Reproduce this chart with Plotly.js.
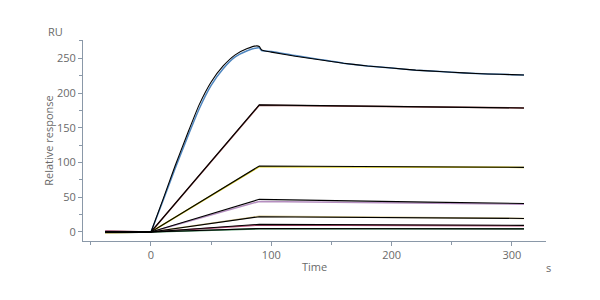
<!DOCTYPE html>
<html>
<head>
<meta charset="utf-8">
<script src="https://cdn.plot.ly/plotly-3.0.1.min.js"></script>
<style>html,body{margin:0;padding:0;background:#fff;}#chart{width:600px;height:300px;}</style>
</head>
<body>
<div id="chart"></div>
<script>
// Time points for the top (curved) sensorgram
const tTop = [-38, 0, 10, 20, 30, 40, 50, 60, 70, 80, 88, 90, 92, 100, 120, 140, 160, 180, 200, 220, 240, 260, 280, 300, 310];
const topFit  = [0, 0, 47, 95, 140, 183, 216, 239, 255, 264, 268, 267, 262, 259, 253, 248, 243, 239, 236, 233, 231, 229, 227.5, 226.5, 226];
const topData = [-1.5, 0, 45, 91, 135, 177, 211, 235, 252, 261, 265, 265, 261, 260, 254, 248.5, 243, 239, 236, 233, 231, 229, 227.5, 226.5, 226];

// Time points for the lower (near-linear) sensorgrams
const tLin = [-38, 0, 90, 150, 230, 310];
const brownFit   = [0, 0, 183, 181.5, 180, 178.5];
const brownData  = [1.5, 0, 182.5, 181.5, 180, 178.5];
const yellowFit  = [0, 0, 95, 94.5, 94, 93];
const yellowData = [-1, 0, 94, 94, 93.5, 93];
const pinkFit    = [0, 0, 47, 45, 43, 41];
const pinkData   = [1, 0, 44, 43, 42, 40];
const tanFit     = [0, 0, 22, 21.5, 20.5, 19.5];
const tanData    = [-1.5, 0, 22.5, 21.5, 20.5, 19.5];
const magFit     = [0, 0, 11, 10.5, 10, 9.5];
const magData    = [0.5, 0, 10, 10, 9.5, 9];
const greenFit   = [0, 0, 5, 5, 5, 4.5];
const greenData  = [-0.5, 0, 4.5, 4.5, 4.5, 4.5];

const dataColors = {top:'#4f86bf', brown:'#8b3f3f', yellow:'#d6c81a', pink:'#b58fc0', tan:'#d2c38a', mag:'#b0466e', green:'#3f8a5a'};

const series = [
  [tTop, topData, topFit, dataColors.top, true],
  [tLin, brownData, brownFit, dataColors.brown, false],
  [tLin, yellowData, yellowFit, dataColors.yellow, false],
  [tLin, pinkData, pinkFit, dataColors.pink, false],
  [tLin, tanData, tanFit, dataColors.tan, false],
  [tLin, magData, magFit, dataColors.mag, false],
  [tLin, greenData, greenFit, dataColors.green, false]
];

function addCurve(traces, x, y, color, width, smooth) {
  if (smooth) {
    // baseline segment straight, injection onward smoothed
    traces.push({x: x.slice(0, 2), y: y.slice(0, 2), mode: 'lines', line: {color: color, width: width}, hoverinfo: 'skip', showlegend: false});
    traces.push({x: x.slice(1), y: y.slice(1), mode: 'lines', line: {color: color, width: width, shape: 'spline', smoothing: 0.5}, hoverinfo: 'skip', showlegend: false});
  } else {
    traces.push({x: x, y: y, mode: 'lines', line: {color: color, width: width}, hoverinfo: 'skip', showlegend: false});
  }
}

const traces = [];
series.forEach(s => addCurve(traces, s[0], s[1], s[3], 1.5, s[4]));
series.forEach(s => addCurve(traces, s[0], s[2], '#000000', 1.1, s[4]));

const axisColor = '#8a98a8';
const fontStyle = {family: 'Open Sans, sans-serif', size: 11, color: '#6a6a6a'};

const layout = {
  width: 600, height: 300,
  margin: {l: 83, r: 54, t: 40, b: 59},
  paper_bgcolor: '#ffffff', plot_bgcolor: '#ffffff',
  font: fontStyle,
  showlegend: false,
  xaxis: {
    range: [-56.5, 328.3], tick0: 0, dtick: 100,
    showgrid: false, zeroline: false,
    showline: true, linecolor: axisColor, linewidth: 1,
    ticks: 'outside', ticklen: 4, tickcolor: axisColor,
    minor: {dtick: 50, tick0: 0, ticks: 'outside', ticklen: 3, tickcolor: axisColor},
    tickfont: fontStyle,
    title: {text: 'Time', font: fontStyle, standoff: 2}
  },
  yaxis: {
    range: [-13, 276.4], tick0: 0, dtick: 50,
    showgrid: false, zeroline: false,
    showline: true, linecolor: axisColor, linewidth: 1,
    ticks: 'outside', ticklen: 4, tickcolor: axisColor,
    minor: {dtick: 25, tick0: 0, ticks: 'outside', ticklen: 3, tickcolor: axisColor},
    tickfont: fontStyle,
    title: {text: 'Relative response', font: fontStyle, standoff: 1}
  },
  annotations: [
    {text: 'RU', xref: 'paper', yref: 'paper', x: (55 - 83) / 463, y: 1 + (40 - 32) / 201, showarrow: false, xanchor: 'center', yanchor: 'middle', font: fontStyle},
    {text: 's', xref: 'paper', yref: 'paper', x: (548 - 83) / 463, y: -(267 - 241) / 201, showarrow: false, xanchor: 'center', yanchor: 'middle', font: fontStyle}
  ]
};

Plotly.newPlot('chart', traces, layout, {displayModeBar: false, staticPlot: true});
</script>
</body>
</html>
